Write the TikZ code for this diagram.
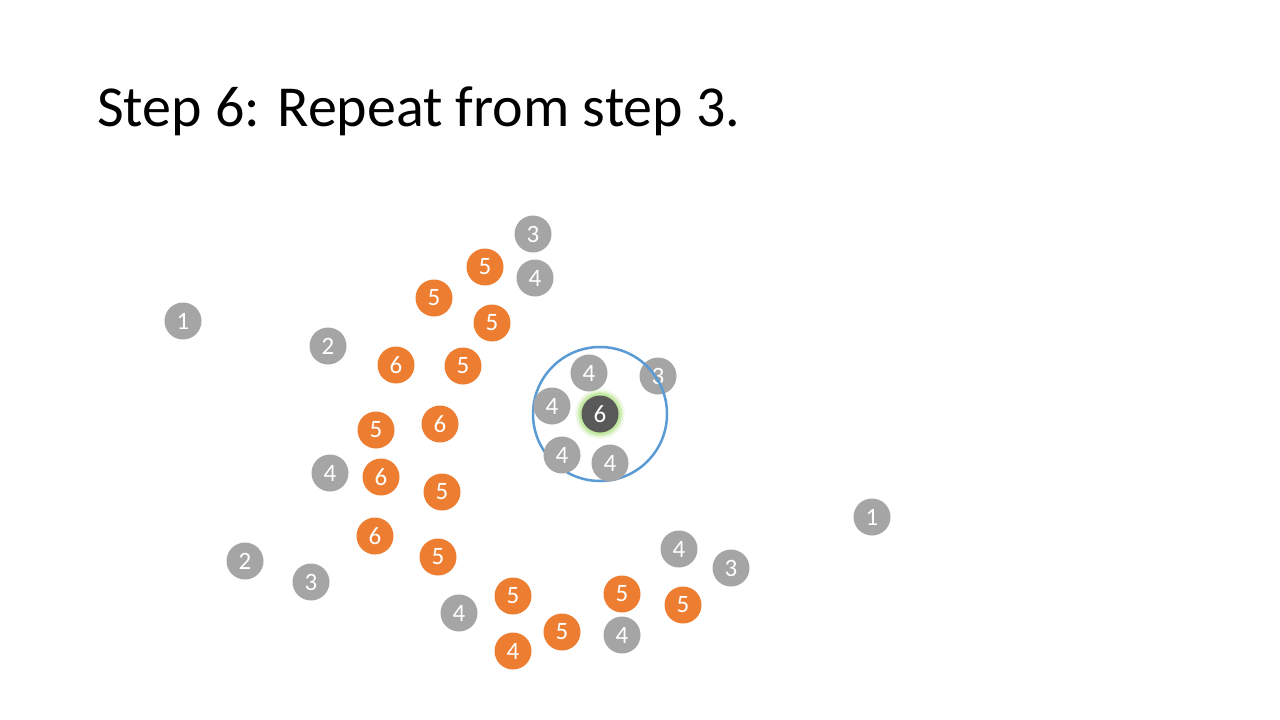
\documentclass[tikz,border=0pt]{standalone}
\usepackage{fontspec}
\setmainfont{Carlito}
\definecolor{dotgray}{HTML}{A5A5A5}
\definecolor{dotorange}{HTML}{ED7D31}
\definecolor{dotdark}{HTML}{595959}
\definecolor{ringblue}{HTML}{5B9BD5}
\definecolor{glowgreen}{HTML}{A9E07A}
\begin{document}
\begin{tikzpicture}[x=1pt,y=-1pt,
  dot/.style={circle,minimum size=37pt,inner sep=0pt,text=white,font=\fontsize{25}{25}\selectfont},
  gdot/.style={dot,fill=dotgray},
  odot/.style={dot,fill=dotorange},
  ddot/.style={dot,fill=dotdark},
  ring/.style={draw=ringblue,line width=2.5pt}]
\useasboundingbox (0,0) rectangle (1280,720);
\fill[white] (0,0) rectangle (1280,720);
\node[anchor=base west,inner sep=0pt,font=\fontsize{58}{58}\selectfont] (title) at (97,126) {Step 6: Repeat from step 3.};
% outer dots
\node[gdot] (g1a) at (183,321) {1};
\node[gdot] (g2a) at (328,346) {2};
\node[gdot] (g3a) at (533,234) {3};
\node[odot] (o5a) at (485,267) {5};
\node[gdot] (g4a) at (535,278) {4};
\node[odot] (o5b) at (434,298) {5};
\node[odot] (o5c) at (492,323) {5};
\node[odot] (o6a) at (396,365) {6};
\node[odot] (o5d) at (463,366) {5};
\node[gdot] (g3b) at (658,376) {3};
\node[odot] (o5e) at (376,430) {5};
\node[odot] (o6b) at (440,424) {6};
\node[gdot] (g4b) at (330,473) {4};
\node[odot] (o6c) at (381,477) {6};
\node[odot] (o5f) at (442,492) {5};
\node[gdot] (g1b) at (872,517) {1};
\node[odot] (o6d) at (375,536) {6};
\node[odot] (o5g) at (438,557) {5};
\node[gdot] (g4c) at (679,549) {4};
\node[gdot] (g2b) at (245,561) {2};
\node[gdot] (g3c) at (731,568) {3};
\node[gdot] (g3d) at (311,582) {3};
\node[odot] (o5h) at (513,596) {5};
\node[odot] (o5i) at (622,594) {5};
\node[odot] (o5j) at (683,605) {5};
\node[gdot] (g4d) at (459,613) {4};
\node[odot] (o5k) at (562,632) {5};
\node[gdot] (g4e) at (622,635) {4};
\node[odot] (o4a) at (513,651) {4};
% search ring
\coordinate (rc) at (600,414);
\draw[ring] (rc) circle[radius=67];
% neighbours inside ring
\node[gdot] (n1) at (589,373) {4};
\node[gdot] (n2) at (552,406) {4};
\node[gdot] (n3) at (562,455) {4};
\node[gdot] (n4) at (610,463) {4};
% glow around centre dot
\foreach \r/\o in {25/0.12,23.5/0.2,22/0.3,20.5/0.45}
  \fill[glowgreen,opacity=\o] (rc) circle[radius=\r];
\node[ddot] (c6) at (rc) {6};
\end{tikzpicture}
\end{document}
